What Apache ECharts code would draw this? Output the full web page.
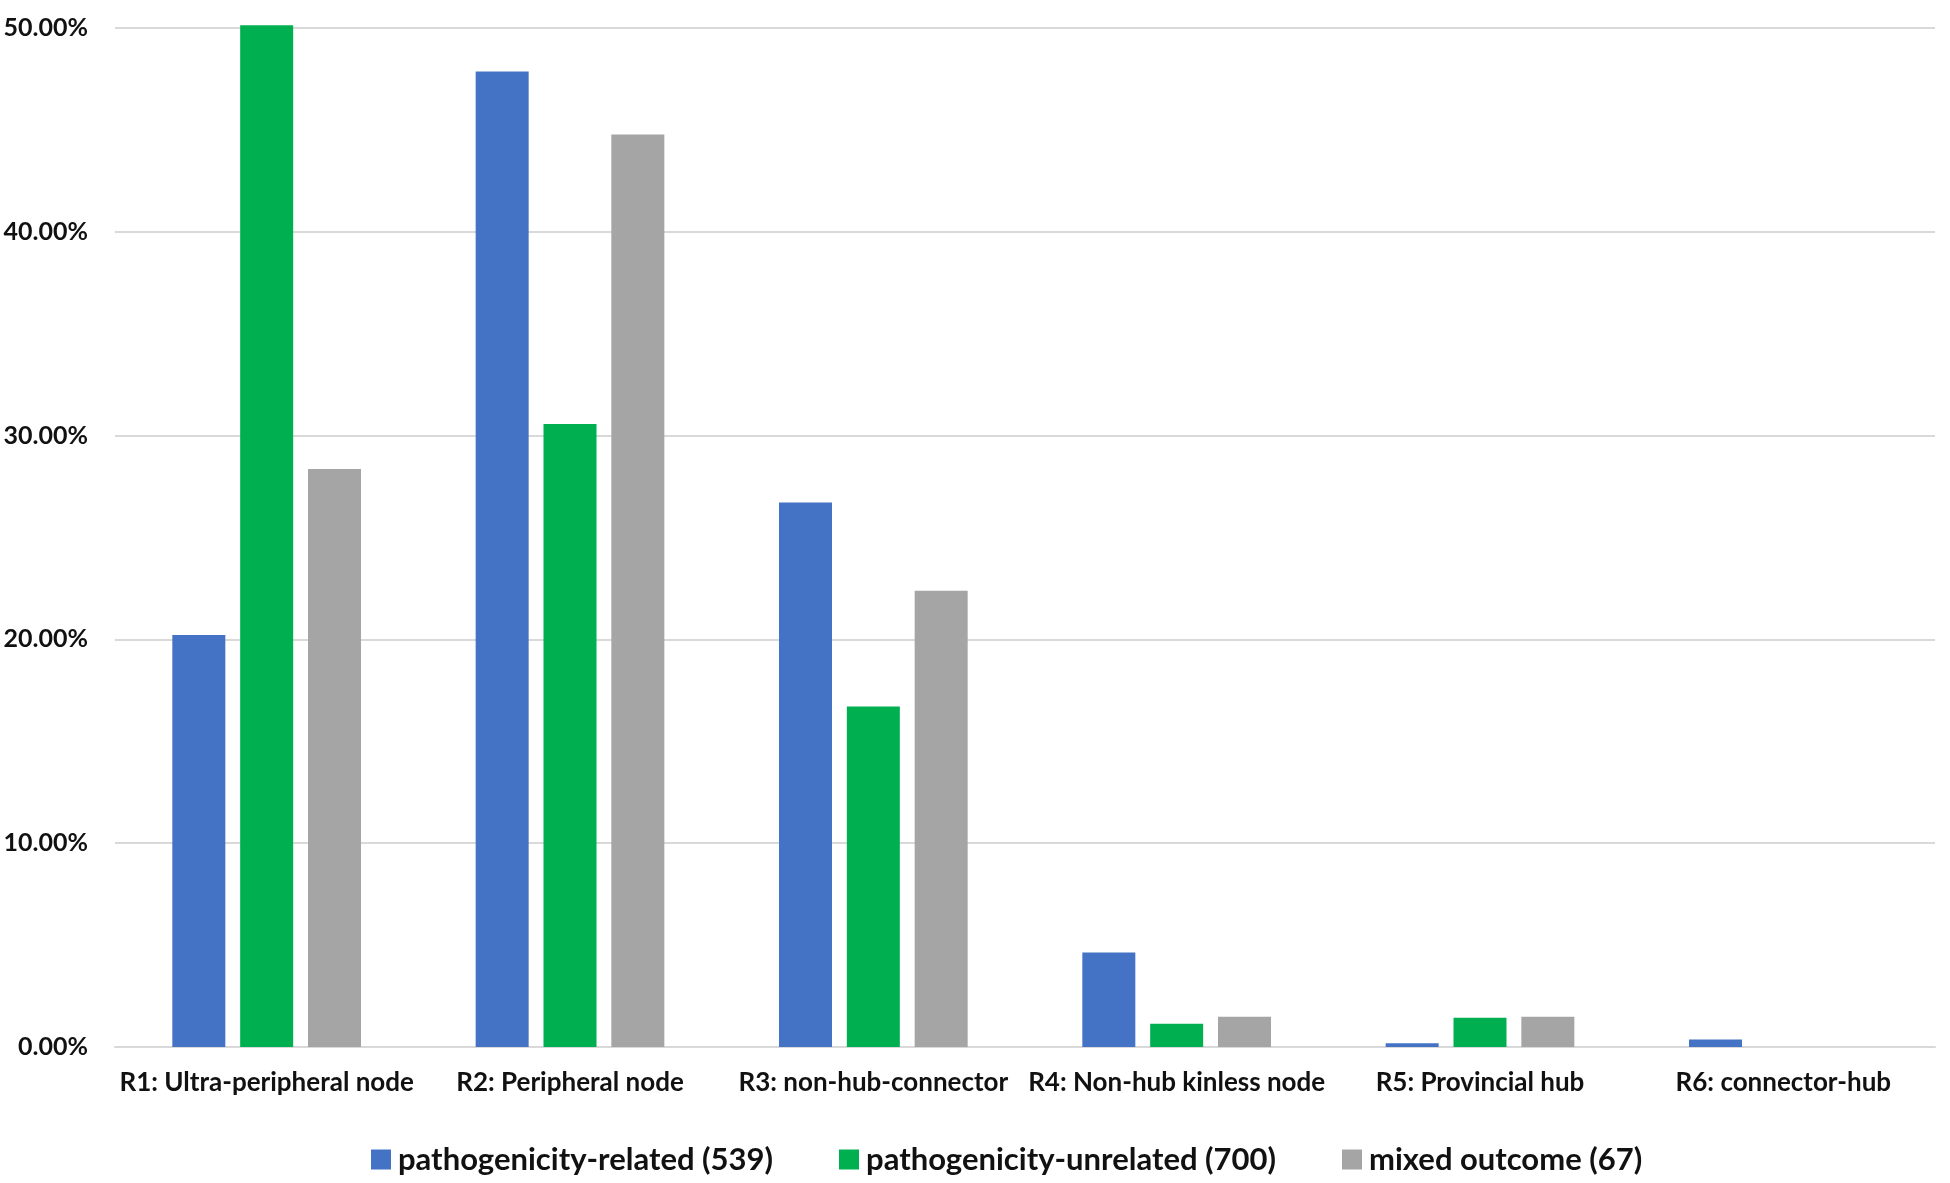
<!DOCTYPE html>
<html>
<head>
<meta charset="utf-8">
<title>Role distribution</title>
<script src="https://cdn.jsdelivr.net/npm/echarts@6/dist/echarts.min.js"></script>
<style>
    html, body { margin: 0; padding: 0; background: #ffffff; }
    #chart { width: 1950px; height: 1183px; }
</style>
</head>
<body>
<div id="chart"></div>
<script>
// categories (node roles)
var categories = [
    'R1: Ultra-peripheral node',
    'R2: Peripheral node',
    'R3: non-hub-connector',
    'R4: Non-hub kinless node',
    'R5: Provincial hub',
    'R6: connector-hub'
];

// series names
var seriesNames = [
    'pathogenicity-related (539)',
    'pathogenicity-unrelated (700)',
    'mixed outcome (67)'
];

// percentages
var relatedValues = [20.22, 47.87, 26.72, 4.64, 0.19, 0.37];
var unrelatedValues = [50.14, 30.57, 16.71, 1.14, 1.43, 0];
var mixedValues = [28.36, 44.78, 22.39, 1.49, 1.49, 0];

// y axis ticks
var yTicks = [0, 10, 20, 30, 40, 50];

var colors = ['#4472C4', '#00B050', '#A5A5A5'];
var fontFamily = 'Lato, "Open Sans", sans-serif';

var chart = echarts.init(document.getElementById('chart'));

function makeSeries(i, data) {
    return {
        name: seriesNames[i],
        type: 'bar',
        data: data,
        barWidth: 53,
        barGap: '28%',
        clip: false,
        itemStyle: { color: colors[i] }
    };
}

var option = {
    animation: false,
    color: colors,
    grid: {
        left: 115,
        right: 15,
        top: 28,
        bottom: 136,
        containLabel: false
    },
    legend: {
        left: 366,
        top: 1139,
        itemWidth: 20,
        itemHeight: 20,
        itemGap: 66,
        icon: 'rect',
        textStyle: {
            fontFamily: fontFamily,
            fontWeight: 'bold',
            fontSize: 31,
            color: '#111111',
            padding: [0, 0, 0, 2]
        },
        data: seriesNames
    },
    xAxis: {
        type: 'category',
        data: categories,
        axisTick: { show: false },
        axisLine: { lineStyle: { color: '#d9d9d9', width: 2 } },
        axisLabel: {
            interval: 0,
            margin: 23,
            fontFamily: fontFamily,
            fontWeight: 'bold',
            fontSize: 26,
            color: '#111111'
        }
    },
    yAxis: {
        type: 'value',
        min: yTicks[0],
        max: yTicks[yTicks.length - 1],
        interval: 10,
        axisLine: { show: false },
        axisTick: { show: false },
        splitLine: { lineStyle: { color: '#d9d9d9', width: 2 } },
        axisLabel: {
            margin: 27,
            fontFamily: fontFamily,
            fontWeight: 'bold',
            fontSize: 25,
            color: '#111111',
            formatter: function (v) { return v.toFixed(2) + '%'; }
        }
    },
    series: [
        makeSeries(0, relatedValues),
        makeSeries(1, unrelatedValues),
        makeSeries(2, mixedValues)
    ]
};

chart.setOption(option);
</script>
</body>
</html>
